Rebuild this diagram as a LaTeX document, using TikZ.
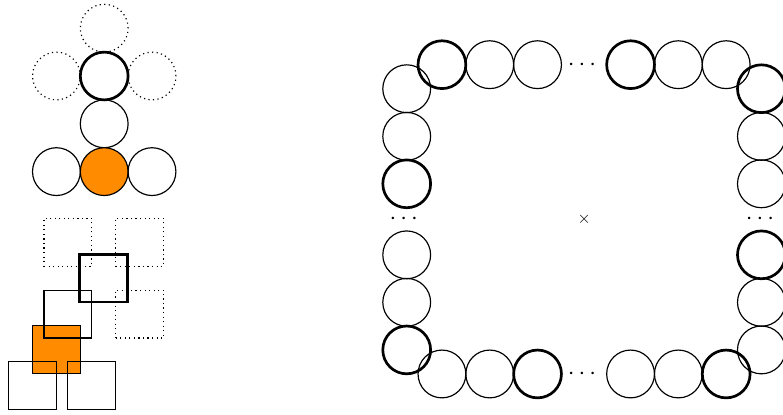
\documentclass[tikz,border=0pt]{standalone}
\usepackage{tikz}
\usetikzlibrary{shapes,positioning}
\usepackage{xcolor}
\usepackage{amsmath,amssymb}
\definecolor{marker}{HTML}{FF8C00}

\begin{document}
\begin{tikzpicture}[
  disc/.style={circle, draw, line width=0.7pt, minimum size=1cm, inner sep=0pt},
  tile/.style={rectangle, draw, line width=0.7pt, minimum size=1cm, inner sep=0pt},
  heavy/.style={line width=1.6pt},
  ghost/.style={dotted, line width=0.7pt},
  hit/.style={fill=marker},
  gap/.style={font=\Large, inner sep=0pt}
]
  \useasboundingbox (0,0) rectangle (16.38,-8.68);

  % circle neighbourhood
  \node[disc, ghost] (cn) at (2.18,-0.59) {};
  \node[disc, ghost] (cw) at (1.18,-1.59) {};
  \node[disc, heavy] (cc) at (2.18,-1.59) {};
  \node[disc, ghost] (ce) at (3.18,-1.59) {};
  \node[disc] (cs) at (2.18,-2.59) {};
  \node[disc] (bl) at (1.18,-3.59) {};
  \node[disc, hit] (bm) at (2.18,-3.59) {};
  \node[disc] (br) at (3.18,-3.59) {};

  % square neighbourhood
  \node[tile, hit] (sq0) at (1.18,-7.31) {};
  \node[tile, ghost] (sqa) at (1.42,-5.07) {};
  \node[tile, ghost] (sqb) at (2.92,-5.07) {};
  \node[tile, heavy] (sqc) at (2.17,-5.82) {};
  \node[tile, ghost] (sqd) at (2.92,-6.57) {};
  \node[tile] (sqe) at (1.42,-6.57) {};
  \node[tile] (sqf) at (0.68,-8.06) {};
  \node[tile] (sqg) at (1.92,-8.06) {};

  % ring of circles
  \node (mid) at (12.22,-4.59) {$\times$};

  \node[disc, heavy] (t1) at (9.245,-1.353) {};
  \node[disc] (t2) at (10.245,-1.353) {};
  \node[disc] (t3) at (11.245,-1.353) {};
  \node[gap] (tdots) at (12.218,-1.353) {$\cdots$};
  \node[disc, heavy] (t4) at (13.191,-1.353) {};
  \node[disc] (t5) at (14.191,-1.353) {};
  \node[disc] (t6) at (15.191,-1.353) {};

  \node[disc] (b1) at (9.245,-7.823) {};
  \node[disc] (b2) at (10.245,-7.823) {};
  \node[disc, heavy] (b3) at (11.245,-7.823) {};
  \node[gap] (bdots) at (12.218,-7.823) {$\cdots$};
  \node[disc] (b4) at (13.191,-7.823) {};
  \node[disc] (b5) at (14.191,-7.823) {};
  \node[disc, heavy] (b6) at (15.191,-7.823) {};

  \node[disc] (l1) at (8.508,-1.856) {};
  \node[disc] (l2) at (8.508,-2.852) {};
  \node[disc, heavy] (l3) at (8.508,-3.845) {};
  \node[gap] (ldots) at (8.49,-4.59) {$\cdots$};
  \node[disc] (l4) at (8.508,-5.331) {};
  \node[disc] (l5) at (8.508,-6.324) {};
  \node[disc, heavy] (l6) at (8.508,-7.32) {};

  \node[disc, heavy] (r1) at (15.928,-1.856) {};
  \node[disc] (r2) at (15.928,-2.852) {};
  \node[disc] (r3) at (15.928,-3.845) {};
  \node[gap] (rdots) at (15.94,-4.59) {$\cdots$};
  \node[disc, heavy] (r4) at (15.928,-5.331) {};
  \node[disc] (r5) at (15.928,-6.324) {};
  \node[disc] (r6) at (15.928,-7.32) {};
\end{tikzpicture}
\end{document}
